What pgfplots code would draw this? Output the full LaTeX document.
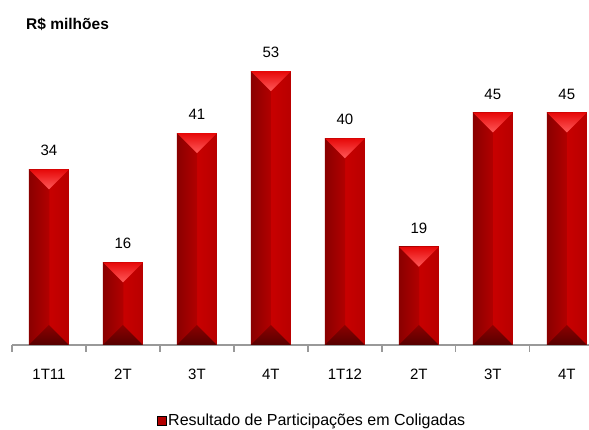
\documentclass[border=0pt]{standalone}
\usepackage{fontspec}
\setmainfont{Liberation Sans}
\usepackage{pgfplots}
\pgfplotsset{compat=1.18}
\definecolor{bl1}{HTML}{8A0000}
\definecolor{bl2}{HTML}{B20000}
\definecolor{br1}{HTML}{C80000}
\definecolor{br2}{HTML}{B80000}
\definecolor{tl}{HTML}{FF5A5A}
\definecolor{tt}{HTML}{E60808}
\definecolor{dd}{HTML}{560000}
\definecolor{da}{HTML}{8C0000}
\definecolor{axgray}{HTML}{999999}
\pgfdeclarehorizontalshading{barbody}{100bp}{color(0bp)=(bl1); color(25bp)=(bl1); color(49.9bp)=(bl2); color(50.1bp)=(br1); color(75bp)=(br2); color(100bp)=(br2)}
\pgfdeclareverticalshading{bevtopsh}{100bp}{color(0bp)=(tl); color(25bp)=(tl); color(75bp)=(tt); color(100bp)=(tt)}
\pgfdeclareverticalshading{bevbotsh}{100bp}{color(0bp)=(dd); color(25bp)=(dd); color(75bp)=(da); color(100bp)=(da)}
\pgfdeclareplotmark{bevtop}{%
  \pgfpathmoveto{\pgfqpoint{-20pt}{0pt}}%
  \pgfpathlineto{\pgfqpoint{20pt}{0pt}}%
  \pgfpathlineto{\pgfqpoint{0pt}{-20pt}}%
  \pgfpathclose
  \pgfshadepath{bevtopsh}{0}%
  \pgfusepath{}%
}
\pgfdeclareplotmark{bevbot}{%
  \pgfpathmoveto{\pgfqpoint{-20pt}{0pt}}%
  \pgfpathlineto{\pgfqpoint{20pt}{0pt}}%
  \pgfpathlineto{\pgfqpoint{0pt}{20pt}}%
  \pgfpathclose
  \pgfshadepath{bevbotsh}{0}%
  \pgfusepath{}%
}
\pgfplotsset{
  mybar/.style={ybar, bar width=40pt, bar shift=0pt, draw=none, shading=barbody, forget plot,
    nodes near coords,
    every node near coord/.append style={font=\fontsize{15}{18}\selectfont, inner sep=0pt, yshift=13pt, black}}
}
\begin{document}
\begin{tikzpicture}
\useasboundingbox (0pt,0pt) rectangle (589pt,430pt);
\node[anchor=west, font=\fontsize{15.5}{18}\selectfont\bfseries, inner sep=0pt] at (26pt,406pt) {R\$ milhões};
\begin{axis}[
  at={(12pt,85pt)}, anchor=south west,
  scale only axis, width=577pt, height=310pt,
  xmin=-0.5, xmax=7.3, ymin=0, ymax=60,
  clip=false,
  axis y line=none,
  axis x line*=bottom,
  x axis line style={axgray, line width=1.6pt},
  xtick={0,1,2,3,4,5,6,7},
  xticklabels={1T11,2T,3T,4T,1T12,2T,3T,4T},
  minor xtick={-0.5,0.5,1.5,2.5,3.5,4.5,5.5,6.5},
  major tick length=0pt,
  minor tick length=7pt,
  tick align=outside,
  minor tick style={axgray, line width=1.3pt},
  xticklabel style={anchor=north, inner sep=0pt, yshift=-24pt, font=\fontsize{15}{18}\selectfont},
  /pgf/number format/assume math mode=true,
  legend style={at={(axis description cs:0.52,-0.245)}, anchor=center, draw=none, fill=none,
    inner sep=0pt, font=\fontsize{16}{19}\selectfont,
    nodes={inner sep=1.5pt}},
]
\addplot[mybar] coordinates {(0,34)};
\addplot[mybar] coordinates {(1,16)};
\addplot[mybar] coordinates {(2,41)};
\addplot[mybar] coordinates {(3,53)};
\addplot[mybar] coordinates {(4,40)};
\addplot[mybar] coordinates {(5,19)};
\addplot[mybar] coordinates {(6,45)};
\addplot[mybar] coordinates {(7,45)};
\addplot[only marks, mark=bevtop, forget plot]
  coordinates {(0,34) (1,16) (2,41) (3,53) (4,40) (5,19) (6,45) (7,45)};
\addplot[only marks, mark=bevbot, forget plot]
  coordinates {(0,0) (1,0) (2,0) (3,0) (4,0) (5,0) (6,0) (7,0)};
\addlegendimage{legend image code/.code={\fill[fill=bl2] (0pt,-4.5pt) rectangle (9pt,4.5pt);}}
\addlegendentry{Resultado de Participações em Coligadas}
\end{axis}
\end{tikzpicture}
\end{document}
